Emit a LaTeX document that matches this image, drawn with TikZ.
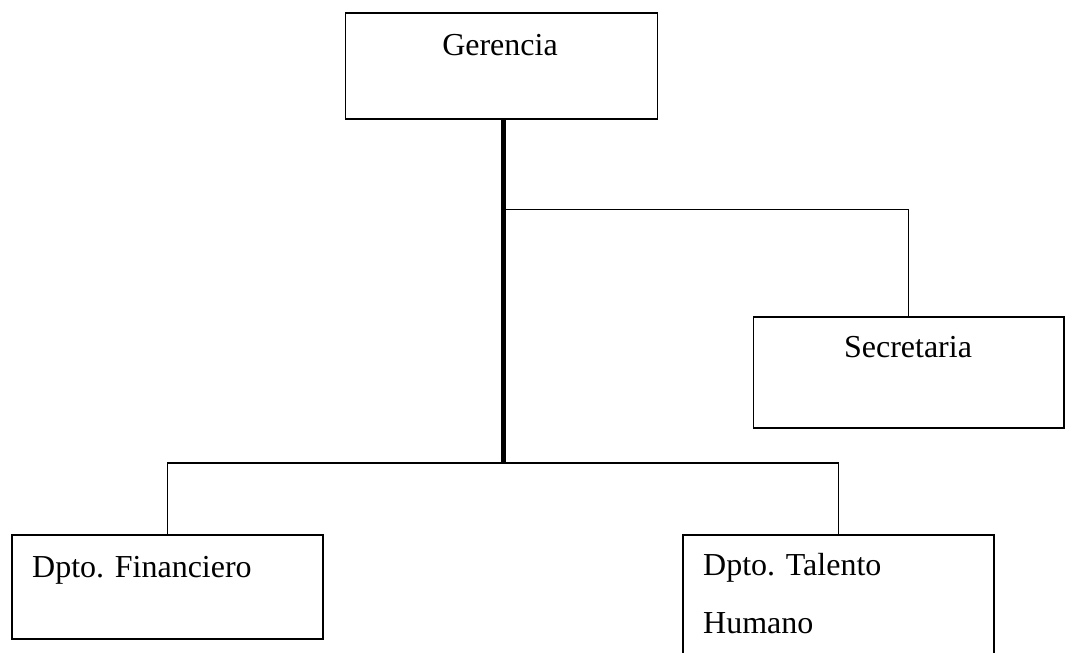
\documentclass[tikz,border=0pt]{standalone}
\usepackage{fontspec}
\setmainfont{Liberation Serif}
\begin{document}
\begin{tikzpicture}[x=1pt,y=-1pt,
  box/.style={draw,line width=1.6pt,rectangle,inner sep=0pt,anchor=north west},
  lbl/.style={inner sep=0pt,font=\fontsize{32}{38}\selectfont},
  thin/.style={line width=1.6pt},
  spine/.style={line width=5pt}]
\clip (0,0) rectangle (1072,653);
\fill[white] (0,0) rectangle (1072,653);
% boxes
\node[box,minimum width=312pt,minimum height=106pt] (ger) at (344.7,12) {};
\node[box,minimum width=310.3pt,minimum height=111pt] (sec) at (752.7,316) {};
\node[box,minimum width=311pt,minimum height=104pt] (fin) at (11,534) {};
\node[box,minimum width=311pt,minimum height=130pt] (tal) at (682,534) {};
% labels
\node[lbl,anchor=base] (gert) at (500,55) {Gerencia};
\node[lbl,anchor=base] (sect) at (908,357) {Secretaria};
\node[lbl,anchor=base west] (fint) at (32,577) {Dpto. Financiero};
\node[lbl,anchor=base west] (talt1) at (703,575) {Dpto. Talento};
\node[lbl,anchor=base west] (talt2) at (703,633) {Humano};
% connectors
\coordinate (jt) at (503.5,209.5);
\coordinate (jb) at (503.5,463);
\draw[thin] (jt) -| (sec.north);
\draw[thin] (fin.north) |- (jb) -| (tal.north);
\draw[spine] (ger.south -| jb) -- (jb);
\end{tikzpicture}
\end{document}
